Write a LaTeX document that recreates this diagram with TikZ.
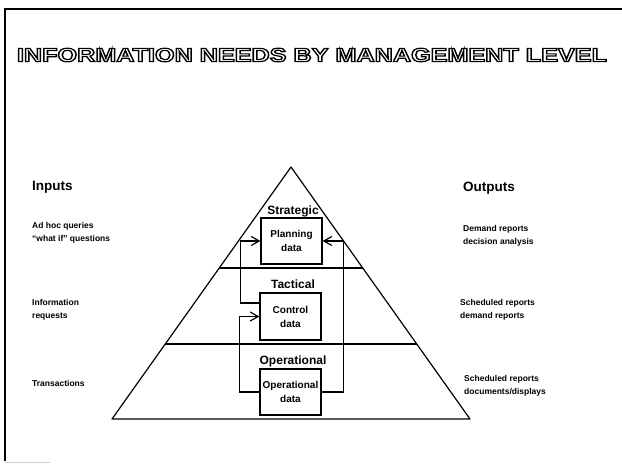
\documentclass[tikz,border=0pt]{standalone}
\usepackage{fontspec}
\usepackage{graphicx}
\setmainfont{Liberation Sans}
\usetikzlibrary{arrows.meta,calc}
\newcommand\mytitletext{\resizebox{590pt}{13.5pt}{\special{pdf:literal direct 1 Tr 0.6 w}\bfseries INFORMATION NEEDS BY MANAGEMENT LEVEL\special{pdf:literal direct 0 Tr}}}
\begin{document}
\begin{tikzpicture}[x=1pt,y=-1pt,
  pyr/.style={line width=1.2pt,line join=round},
  box/.style={draw,line width=1.2pt,minimum width=61pt,minimum height=46pt,inner sep=0pt,align=center,font=\fontsize{10}{14}\selectfont\bfseries},
  lvl/.style={font=\fontsize{12}{14}\selectfont\bfseries,inner sep=0pt},
  head/.style={font=\fontsize{13.5}{16}\selectfont\bfseries,anchor=west,inner sep=0pt},
  side/.style={font=\fontsize{8.5}{13.5}\selectfont\bfseries,anchor=west,align=left,inner sep=0pt},
  arr/.style={line width=1.2pt,-{Straight Barb[length=8pt,width=9pt,line width=1.2pt]}},
  conn/.style={line width=1.2pt}]
\useasboundingbox (0,0) rectangle (622,464);
\fill[white] (0,0) rectangle (622,464);
% frame
\draw[line width=1.6pt] (622,9) -- (5,9) -- (5,461);
\draw[gray!40,line width=1pt] (5,462) -- (50,462);
% title (outlined)
\node[inner sep=0pt] (title) at (312,55) {\mytitletext};
% pyramid
\coordinate (apex) at (291,167);
\coordinate (bl) at (112,419);
\coordinate (br) at (470,419);
\draw[pyr] (apex) -- (bl) -- (br) -- cycle;
\coordinate (d1l) at ($(apex)!0.4008!(bl)$);
\coordinate (d1r) at ($(apex)!0.4008!(br)$);
\coordinate (d2l) at ($(apex)!0.7024!(bl)$);
\coordinate (d2r) at ($(apex)!0.7024!(br)$);
\draw[pyr] (d1l) -- (d1r);
\draw[pyr] (d2l) -- (d2r);
% level labels
\node[lvl] (strat) at (293,211) {Strategic};
\node[lvl] (tact) at (293,284) {Tactical};
\node[lvl] (oper) at (293,361) {Operational};
% boxes
\node[box] (plan) at (291.5,241) {Planning\\data};
\node[box,minimum height=47pt] (ctl) at (290.5,316.5) {Control\\data};
\node[box] (op) at (290.5,392) {Operational\\data};
% connectors
\draw[arr] ([yshift=13.5pt]ctl.west) -- ++(-19,0) |- (plan.west);
\draw[arr] (op.west) -- ++(-20,0) |- (ctl.west);
\draw[arr] (op.east) -- ++(22,0) |- (plan.east);
% inputs
\node[head] (inp) at (32,187) {Inputs};
\node[side] (in1) at (32,233) {Ad hoc queries\\“what if” questions};
\node[side] (in2) at (32,310) {Information\\requests};
\node[side] (in3) at (32,383) {Transactions};
% outputs
\node[head] (outp) at (463,188) {Outputs};
\node[side] (out1) at (463,236) {Demand reports\\decision analysis};
\node[side] (out2) at (460,310) {Scheduled reports\\demand reports};
\node[side] (out3) at (464,386) {Scheduled reports\\documents/displays};
\end{tikzpicture}
\end{document}
